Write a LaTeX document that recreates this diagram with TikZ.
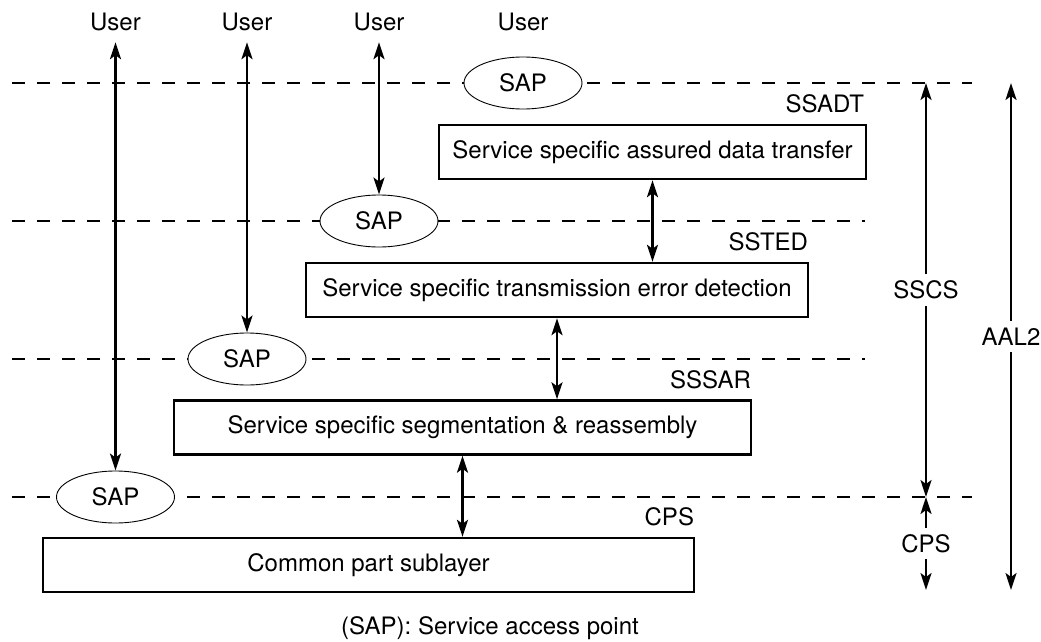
\documentclass[tikz,border=0pt]{standalone}
\usepackage{fontspec}
\setmainfont{TeX Gyre Heros}
\usetikzlibrary{arrows.meta,shapes.geometric}
\begin{document}
\begin{tikzpicture}[x=1pt,y=-1pt,
  every node/.style={font=\fontsize{24}{28}\selectfont},
  layerbox/.style={draw, line width=2.4pt, minimum height=54pt, inner sep=0pt},
  sap/.style={draw, ellipse, fill=white, line width=0.9pt, minimum width=118pt, minimum height=52pt, inner sep=0pt},
  sepline/.style={dash pattern=on 13pt off 12pt, line width=1.6pt},
  dbl/.style={line width=2.2pt, {Stealth[length=17pt,width=11pt,inset=4pt]}-{Stealth[length=17pt,width=11pt,inset=4pt]}},
  usr/.style={minimum height=40pt, inner sep=0pt},
  lbl/.style={anchor=east, inner sep=0pt}]
\useasboundingbox (0,0) rectangle (1041,642);
% separator lines
\coordinate (l1a) at (12,83);  \coordinate (l1b) at (972,83);
\coordinate (l2a) at (12,221); \coordinate (l2b) at (865,221);
\coordinate (l3a) at (12,359); \coordinate (l3b) at (865,359);
\coordinate (l4a) at (12,497); \coordinate (l4b) at (972,497);
\draw[sepline] (l1a) -- (l1b);
\draw[sepline] (l2a) -- (l2b);
\draw[sepline] (l3a) -- (l3b);
\draw[sepline] (l4a) -- (l4b);
% users
\node[usr] (u1) at (115.5,22) {User};
\node[usr] (u2) at (247,22) {User};
\node[usr] (u3) at (379,22) {User};
\node[usr] (u4) at (523,22) {User};
% SAPs
\node[sap] (s1) at (523,83) {SAP};
\node[sap] (s2) at (379,221) {SAP};
\node[sap] (s3) at (247,359) {SAP};
\node[sap] (s4) at (115.5,497) {SAP};
% boxes
\node[layerbox, minimum width=427pt] (ssadt) at (652.5,152) {Service specific assured data transfer};
\node[layerbox, minimum width=502pt] (ssted) at (557,290) {Service specific transmission error detection};
\node[layerbox, minimum width=577pt] (sssar) at (462.5,427.5) {Service specific segmentation \& reassembly};
\node[layerbox, minimum width=651pt] (cps) at (368.5,565) {Common part sublayer};
% layer labels
\node[lbl] (lssadt) at ([xshift=-3pt,yshift=20pt]ssadt.north east) {SSADT};
\node[lbl] (lssted) at ([xshift=-1pt,yshift=20pt]ssted.north east) {SSTED};
\node[lbl] (lsssar) at ([xshift=-1pt,yshift=20pt]sssar.north east) {SSSAR};
\node[lbl] (lcps) at ([xshift=-1pt,yshift=20pt]cps.north east) {CPS};
% user arrows
\draw[dbl] (u1.south) -- (s4.north);
\draw[dbl] (u2.south) -- (s3.north);
\draw[dbl] (u3.south) -- (s2.north);
% inter-layer arrows
\draw[dbl] (ssadt.south) -- (ssadt.south |- ssted.north);
\draw[dbl] (ssted.south) -- (ssted.south |- sssar.north);
\draw[dbl] (sssar.south) -- (sssar.south |- cps.north);
% right-side extents
\coordinate (sscsTop) at (926,83);
\coordinate (sscsBot) at (926,497);
\coordinate (cpsBot) at (926,590);
\coordinate (aalTop) at (1011,83);
\coordinate (aalBot) at (1011,590);
\draw[dbl] (sscsTop) -- (sscsBot) node[midway, fill=white, inner xsep=0pt, inner ysep=7pt] (tsscs) {SSCS};
\draw[dbl] (sscsBot) -- (cpsBot) node[midway, fill=white, inner xsep=0pt, inner ysep=6pt] (tcps) {CPS};
\draw[dbl] (aalTop) -- (aalBot) node[midway, fill=white, inner xsep=0pt, inner ysep=7pt] (taal) {AAL2};
% caption
\node (cap) at (490,628) {(SAP): Service access point};
\end{tikzpicture}
\end{document}
